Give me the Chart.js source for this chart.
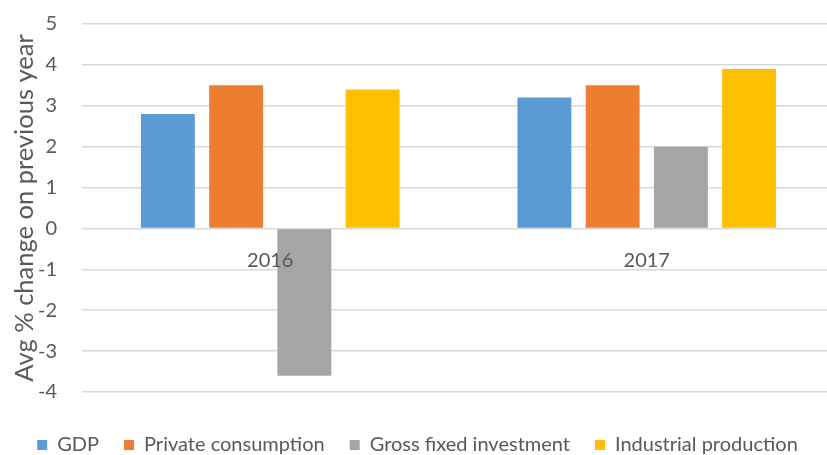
<!DOCTYPE html>
<html>
<head>
<meta charset="utf-8">
<script src="https://cdn.jsdelivr.net/npm/chart.js@4"></script>
<style>
  html, body { margin: 0; padding: 0; background: #fff; overflow: hidden; }
  #wrap { width: 835px; height: 465px; position: relative; }
</style>
</head>
<body>
<div id="wrap"><canvas id="c"></canvas></div>
<script>
const categories = ['2016', '2017'];
const gdp = [2.8, 3.2];
const privateConsumption = [3.5, 3.5];
const grossFixedInvestment = [-3.6, 2.0];
const industrialProduction = [3.4, 3.9];
const seriesNames = ['GDP', 'Private consumption', 'Gross fixed investment', 'Industrial production'];
const yTitle = 'Avg % change on previous year';

const FONT = "Lato, 'Open Sans', sans-serif";
const TXT = '#595959';
const colors = ['#5B9BD5', '#ED7D31', '#A5A5A5', '#FFC000'];
const values = [gdp, privateConsumption, grossFixedInvestment, industrialProduction];

new Chart(document.getElementById('c'), {
  type: 'bar',
  data: {
    labels: categories,
    datasets: seriesNames.map((n, i) => ({
      label: n,
      data: values[i],
      backgroundColor: colors[i],
      borderWidth: 0,
      categoryPercentage: 0.725,
      barPercentage: 0.79
    }))
  },
  options: {
    responsive: true,
    maintainAspectRatio: false,
    animation: false,
    layout: { padding: { top: 24, right: 0, left: 0, bottom: 0 } },
    plugins: {
      tooltip: { enabled: false },
      legend: {
        position: 'bottom',
        labels: {
          font: { family: FONT, size: 20 },
          color: TXT,
          boxWidth: 10,
          boxHeight: 10,
          padding: 25
        }
      }
    },
    scales: {
      x: {
        position: { y: 0 },
        grid: { display: false, drawTicks: false },
        border: { display: false },
        ticks: { font: { family: FONT, size: 20 }, color: TXT, padding: 20.5, z: 1 }
      },
      spacer: {
        type: 'category',
        position: 'bottom',
        grid: { display: false, drawTicks: false },
        border: { display: false },
        ticks: { display: false },
        afterFit: (s) => { s.height = 18; }
      },
      y: {
        min: -4,
        max: 5,
        ticks: { stepSize: 1, font: { family: FONT, size: 20 }, color: TXT, padding: 25 },
        grid: { color: '#D9D9D9', lineWidth: 1.5, drawTicks: false },
        border: { display: false },
        title: {
          display: true,
          text: yTitle,
          font: { family: FONT, size: 25.5 },
          color: TXT,
          padding: { top: 9.5, bottom: 0 }
        },
        afterFit: (s) => { s.width = 82; s.paddingTop = 0; s.paddingBottom = 0; }
      }
    }
  }
});
</script>
</body>
</html>
